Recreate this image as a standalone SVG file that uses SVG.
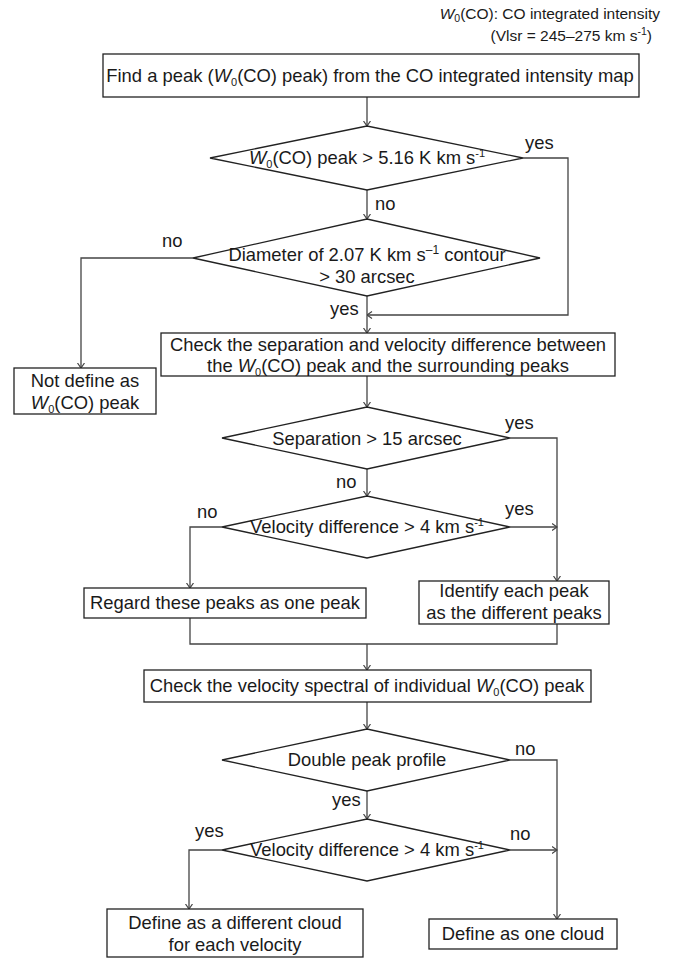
<svg xmlns="http://www.w3.org/2000/svg" width="678" height="961" viewBox="0 0 678 961">
<defs>
<style>
text{font-family:"Liberation Sans",Arial,Helvetica,sans-serif;font-size:18.4px;fill:#1a1a1a}
.c{text-anchor:middle}
.lbl{font-size:18.4px}
.note{font-size:15.5px;text-anchor:end}
.box{fill:#fff;stroke:#222;stroke-width:1.3}
.conn{fill:none;stroke:#444;stroke-width:1.3}
.i{font-style:italic}
</style>
<marker id="ah" viewBox="0 0 6 8" markerWidth="6" markerHeight="8" refX="5.5" refY="4" orient="auto" markerUnits="userSpaceOnUse">
<path d="M0.5,0.5 L5.5,4 L0.5,7.5" fill="none" stroke="#444" stroke-width="1.2"/>
</marker>
</defs>
<rect width="678" height="961" fill="#fff"/>

<g id="note">
<text class="note" x="660" y="19"><tspan class="i">W</tspan><tspan font-size="10.5" dy="3">0</tspan><tspan dy="-3">(CO): CO integrated intensity</tspan></text>
<text class="note" x="652" y="41">(Vlsr = 245–275 km s<tspan font-size="10.5" dy="-6">-1</tspan><tspan dy="6">)</tspan></text>
</g>

<g id="connectors">
<line class="conn" x1="367" y1="97" x2="367" y2="126" marker-end="url(#ah)"/>
<polyline class="conn" points="523,158 568,158 568,315 367,315" marker-end="url(#ah)"/>
<line class="conn" x1="367" y1="190" x2="367" y2="219" marker-end="url(#ah)"/>
<polyline class="conn" points="193,258 81,258 81,368" marker-end="url(#ah)"/>
<line class="conn" x1="367" y1="296" x2="367" y2="333" marker-end="url(#ah)"/>
<line class="conn" x1="367" y1="376" x2="367" y2="407" marker-end="url(#ah)"/>
<polyline class="conn" points="510,438 557,438 557,581" marker-end="url(#ah)"/>
<line class="conn" x1="367" y1="469" x2="367" y2="496" marker-end="url(#ah)"/>
<polyline class="conn" points="222,527 190,527 190,588" marker-end="url(#ah)"/>
<line class="conn" x1="510" y1="527" x2="557" y2="527" marker-end="url(#ah)"/>
<polyline class="conn" points="190,618 190,644 557,644 557,624"/>
<line class="conn" x1="367" y1="644" x2="367" y2="670" marker-end="url(#ah)"/>
<line class="conn" x1="367" y1="702" x2="367" y2="729" marker-end="url(#ah)"/>
<polyline class="conn" points="510,760 557,760 557,919" marker-end="url(#ah)"/>
<line class="conn" x1="367" y1="791" x2="367" y2="819" marker-end="url(#ah)"/>
<polyline class="conn" points="222,850 189,850 189,909" marker-end="url(#ah)"/>
<line class="conn" x1="510" y1="850" x2="557" y2="850" marker-end="url(#ah)"/>
<text class="lbl" x="525" y="149">yes</text>
<text class="lbl" x="375" y="210">no</text>
<text class="lbl" x="162" y="247">no</text>
<text class="lbl" x="330" y="315">yes</text>
<text class="lbl" x="505" y="429">yes</text>
<text class="lbl" x="336" y="488">no</text>
<text class="lbl" x="197" y="518">no</text>
<text class="lbl" x="505" y="515">yes</text>
<text class="lbl" x="515" y="755">no</text>
<text class="lbl" x="332" y="806">yes</text>
<text class="lbl" x="195" y="837">yes</text>
<text class="lbl" x="510" y="840">no</text>
</g>

<g id="n1">
<rect class="box" x="103" y="54" width="536" height="43"/>
<text class="c" x="370" y="82">Find a peak (<tspan class="i">W</tspan><tspan font-size="11" dy="4">0</tspan><tspan dy="-4">(CO) peak) from the CO integrated intensity map</tspan></text>
</g>

<g id="d1">
<polygon class="box" points="210,158 367,126 523,158 367,190"/>
<text class="c" x="367" y="164"><tspan class="i">W</tspan><tspan font-size="11" dy="4">0</tspan><tspan dy="-4">(CO) peak &gt; 5.16 K km s</tspan><tspan font-size="11" dy="-7">-1</tspan></text>
</g>

<g id="d2">
<polygon class="box" points="193,258 367,219 540,258 367,296"/>
<text class="c" x="367" y="261">Diameter of 2.07 K km s<tspan font-size="12" dy="-7">–1</tspan><tspan dy="7"> contour</tspan></text>
<text class="c" x="367" y="283">&gt; 30 arcsec</text>
</g>

<g id="n_notdef">
<rect class="box" x="14" y="368" width="142" height="46"/>
<text class="c" x="85" y="387">Not define as</text>
<text class="c" x="85" y="409"><tspan class="i">W</tspan><tspan font-size="11" dy="4">0</tspan><tspan dy="-4">(CO) peak</tspan></text>
</g>

<g id="n2">
<rect class="box" x="161" y="333" width="454" height="43"/>
<text class="c" x="388" y="351">Check the separation and velocity difference between</text>
<text class="c" x="388" y="372">the <tspan class="i">W</tspan><tspan font-size="11" dy="4">0</tspan><tspan dy="-4">(CO) peak and the surrounding peaks</tspan></text>
</g>

<g id="d3">
<polygon class="box" points="222,438 367,407 510,438 367,469"/>
<text class="c" x="367" y="445">Separation &gt; 15 arcsec</text>
</g>

<g id="d4">
<polygon class="box" points="222,527 367,496 510,527 367,558"/>
<text class="c" x="367" y="533">Velocity difference &gt; 4 km s<tspan font-size="11" dy="-7">-1</tspan></text>
</g>

<g id="n_regard">
<rect class="box" x="84" y="588" width="282" height="30"/>
<text class="c" x="225" y="609">Regard these peaks as one peak</text>
</g>

<g id="n_identify">
<rect class="box" x="419" y="581" width="190" height="43"/>
<text class="c" x="514" y="597">Identify each peak</text>
<text class="c" x="514" y="619">as the different peaks</text>
</g>

<g id="n3">
<rect class="box" x="144" y="670" width="447" height="32"/>
<text class="c" x="367" y="692">Check the velocity spectral of individual <tspan class="i">W</tspan><tspan font-size="11" dy="4">0</tspan><tspan dy="-4">(CO) peak</tspan></text>
</g>

<g id="d5">
<polygon class="box" points="222,760 367,729 510,760 367,791"/>
<text class="c" x="367" y="766">Double peak profile</text>
</g>

<g id="d6">
<polygon class="box" points="222,850 367,819 510,850 367,881"/>
<text class="c" x="367" y="856">Velocity difference &gt; 4 km s<tspan font-size="11" dy="-7">-1</tspan></text>
</g>

<g id="n_diffcloud">
<rect class="box" x="107" y="909" width="256" height="48"/>
<text class="c" x="235" y="929">Define as a different cloud</text>
<text class="c" x="235" y="951">for each velocity</text>
</g>

<g id="n_onecloud">
<rect class="box" x="429" y="919" width="188" height="30"/>
<text class="c" x="523" y="940">Define as one cloud</text>
</g>
</svg>
